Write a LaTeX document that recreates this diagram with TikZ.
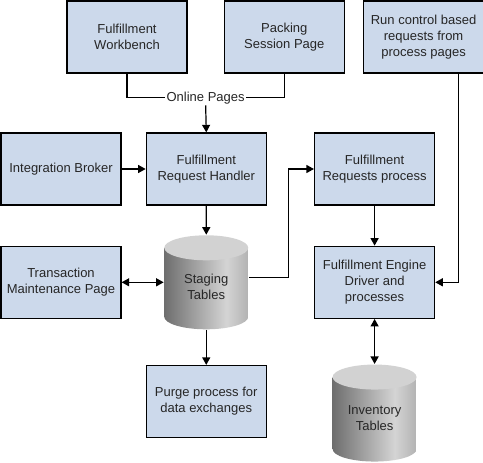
\documentclass[tikz,border=0pt]{standalone}
\usepackage{fontspec}
\setmainfont{Liberation Sans}
\usetikzlibrary{positioning, arrows.meta, calc}
\definecolor{boxblue}{RGB}{204,217,235}
\definecolor{dbdark}{RGB}{110,110,110}
\definecolor{dblight}{RGB}{212,212,212}
\definecolor{dbedge}{RGB}{178,178,178}
\definecolor{dbtop}{RGB}{210,210,210}
\pgfdeclarehorizontalshading{dbbody}{100bp}{color(0bp)=(dbdark); color(25bp)=(dbdark); color(62bp)=(dblight); color(75bp)=(dbedge); color(100bp)=(dbedge)}
\tikzset{
    ->, % every connector gets a head
    >={Triangle[length=7.5pt,width=8pt]}, % filled heads
    every node/.style={font=\fontsize{13}{16}\selectfont, text=black!85},
    process/.style={draw, line width=1.3pt, fill=boxblue, minimum width=120pt, minimum height=72pt, align=center, inner sep=2pt}, % the blue boxes
    dbtable/.style={minimum width=84pt, minimum height=94pt, align=center, text height=38pt, text depth=3pt,
        path picture={
            \shade[shading=dbbody] ([yshift=-12.5pt]path picture bounding box.north west) -- ([yshift=12.5pt]path picture bounding box.south west)
                arc[start angle=180, end angle=360, x radius=42pt, y radius=12.5pt] -- ([yshift=-12.5pt]path picture bounding box.north east) -- cycle;
            \fill[dbtop] ([yshift=-12.5pt]path picture bounding box.north) ellipse [x radius=42pt, y radius=12.5pt];
        }}, % grey cylinders
    lbl/.style={fill=white, inner sep=1pt},
}
\begin{document}
\begin{tikzpicture}[x=1pt, y=1pt, line width=1.2pt]
    \useasboundingbox (0,0) rectangle (483,-463);

    \node[process] (fw) at (127,-37) {Fulfillment\\Workbench};
    \node[process, right=36pt of fw] (psp) {Packing\\Session Page};
    \node[process, right=18pt of psp] (rc) {Run control based\\requests from\\process pages};
    \node[process] (ib) at (61,-169) {Integration Broker};
    \node[process, right=24pt of ib] (frh) {Fulfillment\\Request Handler};
    \node[process, right=47pt of frh] (frp) {Fulfillment\\Requests process};
    \node[process, below=40pt of ib] (tmp) {Transaction\\Maintenance Page};
    \node[dbtable, right=42pt of tmp] (stg) {Staging\\Tables};
    \node[process, below=40pt of frp] (fed) {Fulfillment Engine\\Driver and\\processes};
    \node[process, below=35pt of stg] (pp) {Purge process for\\data exchanges};
    \node[dbtable, below=45pt of fed, minimum height=97pt] (inv) {Inventory\\Tables};

    \node[lbl] (op) at ($(fw.south)!.5!(psp.south)+(0,-24)$) {Online Pages};

    \draw[-] (fw.south) |- (op.west);
    \draw[-] (psp.south) |- (op.east);
    \draw (op.south) -- (frh.north);
    \draw (ib) -- (frh);
    \draw (frh) -- (stg);
    \draw[<->] (tmp) -- (stg);
    \draw (stg) -- (pp);
    \draw ([yshift=4.5pt]stg.east) -- ++(40pt,0) |- (frp.west);
    \draw (frp) -- (fed);
    \draw ([xshift=35pt]rc.south) |- (fed.east);
    \draw[<->] (fed) -- (inv);

\end{tikzpicture}
\end{document}
